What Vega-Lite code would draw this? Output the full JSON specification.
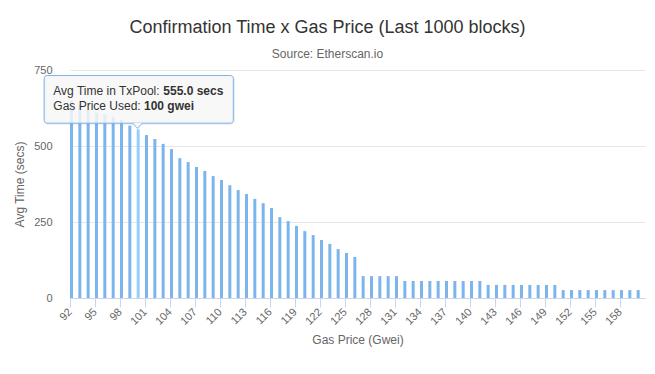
{
  "$schema": "https://vega.github.io/schema/vega-lite/v6.json",
  "width": 575,
  "height": 228,
  "autosize": {"type": "none"},
  "padding": {"left": 70, "top": 70, "right": 10, "bottom": 76},
  "background": "#ffffff",
  "config": {
    "font": "Liberation Sans",
    "view": {"stroke": null},
    "title": {"font": "Liberation Sans", "subtitleFont": "Liberation Sans"}
  },
  "title": {
    "text": "Confirmation Time x Gas Price (Last 1000 blocks)",
    "subtitle": "Source: Etherscan.io",
    "fontSize": 18,
    "fontWeight": "normal",
    "color": "#333333",
    "subtitleFontSize": 12,
    "subtitleColor": "#666666",
    "subtitlePadding": 12,
    "anchor": "middle",
    "dx": -30,
    "offset": 4
  },
  "data": {
    "values": [
      {"price": 92, "time": 650}, {"price": 93, "time": 635}, {"price": 94, "time": 620},
      {"price": 95, "time": 609}, {"price": 96, "time": 604}, {"price": 97, "time": 596},
      {"price": 98, "time": 586}, {"price": 99, "time": 567}, {"price": 100, "time": 555},
      {"price": 101, "time": 536}, {"price": 102, "time": 523}, {"price": 103, "time": 507},
      {"price": 104, "time": 490}, {"price": 105, "time": 460}, {"price": 106, "time": 447},
      {"price": 107, "time": 431}, {"price": 108, "time": 418}, {"price": 109, "time": 401},
      {"price": 110, "time": 388}, {"price": 111, "time": 371}, {"price": 112, "time": 355},
      {"price": 113, "time": 342}, {"price": 114, "time": 326}, {"price": 115, "time": 312},
      {"price": 116, "time": 296}, {"price": 117, "time": 266}, {"price": 118, "time": 253},
      {"price": 119, "time": 237}, {"price": 120, "time": 220}, {"price": 121, "time": 207},
      {"price": 122, "time": 191}, {"price": 123, "time": 178}, {"price": 124, "time": 161},
      {"price": 125, "time": 148}, {"price": 126, "time": 135}, {"price": 127, "time": 72},
      {"price": 128, "time": 72}, {"price": 129, "time": 72}, {"price": 130, "time": 72},
      {"price": 131, "time": 72}, {"price": 132, "time": 56}, {"price": 133, "time": 56},
      {"price": 134, "time": 56}, {"price": 135, "time": 56}, {"price": 136, "time": 56},
      {"price": 137, "time": 56}, {"price": 138, "time": 56}, {"price": 139, "time": 56},
      {"price": 140, "time": 56}, {"price": 141, "time": 56}, {"price": 142, "time": 43},
      {"price": 143, "time": 43}, {"price": 144, "time": 43}, {"price": 145, "time": 43},
      {"price": 146, "time": 43}, {"price": 147, "time": 43}, {"price": 148, "time": 43},
      {"price": 149, "time": 43}, {"price": 150, "time": 43}, {"price": 151, "time": 26},
      {"price": 152, "time": 26}, {"price": 153, "time": 26}, {"price": 154, "time": 26},
      {"price": 155, "time": 26}, {"price": 156, "time": 26}, {"price": 157, "time": 26},
      {"price": 158, "time": 26}, {"price": 159, "time": 26}, {"price": 160, "time": 26}
    ]
  },
  "layer": [
    {
      "mark": {"type": "bar", "width": 3, "xOffset": 1.5},
      "encoding": {
        "x": {
          "field": "price",
          "type": "quantitative",
          "scale": {"domain": [92, 161], "nice": false, "zero": false, "padding": 0},
          "axis": {
            "title": "Gas Price (Gwei)",
            "values": [92, 95, 98, 101, 104, 107, 110, 113, 116, 119, 122, 125, 128, 131, 134, 137, 140, 143, 146, 149, 152, 155, 158],
            "tickCount": 100,
            "format": "d",
            "labelAngle": -45,
            "labelAlign": "right",
            "labelBaseline": "middle",
            "labelFontSize": 11,
            "labelColor": "#666666",
            "labelPadding": 3,
            "labelFlush": false,
            "labelOverlap": false,
            "domainColor": "#ccd6eb",
            "tickColor": "#ccd6eb",
            "tickSize": 9,
            "grid": false,
            "titleFontSize": 12,
            "titleFontWeight": "normal",
            "titleColor": "#666666",
            "titlePadding": 8
          }
        },
        "y": {
          "field": "time",
          "type": "quantitative",
          "scale": {"domain": [0, 750], "nice": false},
          "axis": {
            "title": "Avg Time (secs)",
            "values": [0, 250, 500, 750],
            "domain": false,
            "ticks": false,
            "tickSize": 0,
            "labelPadding": 18,
            "labelFontSize": 11,
            "labelColor": "#666666",
            "gridColor": "#e6e6e6",
            "titleFontSize": 12,
            "titleFontWeight": "normal",
            "titleColor": "#666666",
            "titlePadding": 7
          }
        },
        "color": {
          "condition": {"test": "datum.price === 100", "value": "#95ceff"},
          "value": "#7cb5ec"
        }
      }
    },
    {
      "data": {"values": [{}]},
      "mark": {"type": "rect", "fill": "#000000", "fillOpacity": 0, "stroke": "#000000", "strokeOpacity": 0.08, "strokeWidth": 3, "cornerRadius": 3, "xOffset": 1, "yOffset": 1},
      "encoding": {
        "x": {"datum": 88.9, "type": "quantitative"},
        "x2": {"datum": 111.6},
        "y": {"datum": 732, "type": "quantitative"},
        "y2": {"datum": 575}
      }
    },
    {
      "data": {"values": [{}]},
      "mark": {"type": "rect", "fill": "#f7f7f7", "fillOpacity": 0.85, "stroke": "#7cb5ec", "strokeWidth": 1, "cornerRadius": 3},
      "encoding": {
        "x": {"datum": 88.9, "type": "quantitative"},
        "x2": {"datum": 111.6},
        "y": {"datum": 732, "type": "quantitative"},
        "y2": {"datum": 575}
      }
    },
    {
      "data": {"values": [{}]},
      "mark": {"type": "point", "shape": "M-1,-0.6L0,0.5L1,-0.6", "size": 100, "filled": true, "fill": "#f8f8f8", "fillOpacity": 1, "stroke": "#7cb5ec", "strokeWidth": 1, "opacity": 1},
      "encoding": {
        "x": {"datum": 100.1, "type": "quantitative"},
        "y": {"datum": 566, "type": "quantitative"}
      }
    },
    {
      "data": {"values": [{}]},
      "mark": {"type": "text", "text": "Avg Time in TxPool:", "align": "left", "baseline": "middle", "fontSize": 12, "color": "#333333"},
      "encoding": {
        "x": {"datum": 90.0, "type": "quantitative"},
        "y": {"datum": 681, "type": "quantitative"}
      }
    },
    {
      "data": {"values": [{}]},
      "mark": {"type": "text", "text": "555.0 secs", "align": "left", "baseline": "middle", "fontSize": 12, "fontWeight": "bold", "color": "#333333"},
      "encoding": {
        "x": {"datum": 103.2, "type": "quantitative"},
        "y": {"datum": 681, "type": "quantitative"}
      }
    },
    {
      "data": {"values": [{}]},
      "mark": {"type": "text", "text": "Gas Price Used:", "align": "left", "baseline": "middle", "fontSize": 12, "color": "#333333"},
      "encoding": {
        "x": {"datum": 90.0, "type": "quantitative"},
        "y": {"datum": 633, "type": "quantitative"}
      }
    },
    {
      "data": {"values": [{}]},
      "mark": {"type": "text", "text": "100 gwei", "align": "left", "baseline": "middle", "fontSize": 12, "fontWeight": "bold", "color": "#333333"},
      "encoding": {
        "x": {"datum": 100.88, "type": "quantitative"},
        "y": {"datum": 633, "type": "quantitative"}
      }
    }
  ]
}
